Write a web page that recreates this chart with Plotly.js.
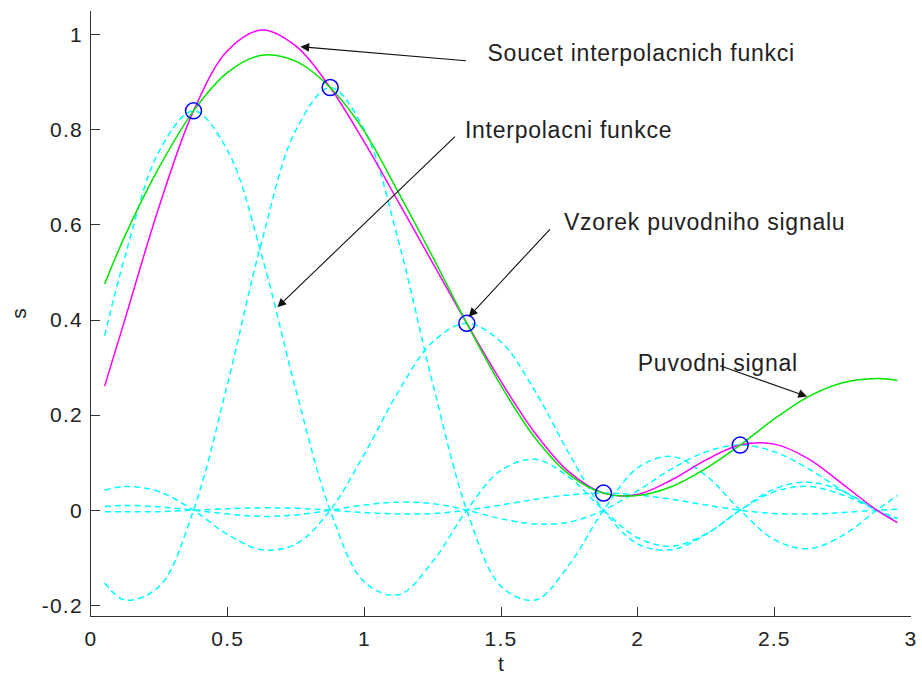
<!DOCTYPE html>
<html>
<head>
<meta charset="utf-8">
<script src="https://cdn.plot.ly/plotly-3.0.1.min.js"></script>
<style>
html,body{margin:0;padding:0;background:#fff;}
#chart{width:922px;height:675px;}
#chart text.annotation-text{letter-spacing:0.75px;}
#chart .xtick text,#chart .ytick text{letter-spacing:1.2px;}
</style>
</head>
<body>
<div id="chart"></div>
<script>
// time grid (s)
var tGrid = [0.05, 0.125, 0.25, 0.375, 0.5, 0.625, 0.75, 0.875, 1.0, 1.125, 1.25, 1.375, 1.5, 1.625, 1.75, 1.875, 2.0, 2.125, 2.25, 2.375, 2.5, 2.625, 2.75, 2.875, 2.95];
// original signal (green)
var puvodni = [0.476, 0.578, 0.722, 0.840, 0.921, 0.957, 0.944, 0.889, 0.797, 0.668, 0.533, 0.393, 0.262, 0.152, 0.075, 0.036, 0.031, 0.050, 0.088, 0.137, 0.192, 0.239, 0.268, 0.277, 0.273];
// sum of interpolation functions (magenta)
var soucet = [0.261, 0.403, 0.640, 0.840, 0.967, 1.010, 0.976, 0.889, 0.774, 0.648, 0.520, 0.393, 0.271, 0.162, 0.080, 0.036, 0.033, 0.064, 0.106, 0.137, 0.139, 0.108, 0.055, 0.000, -0.026];
// interpolation functions (cyan dashed)
var interp1 = [0.367, 0.535, 0.756, 0.840, 0.756, 0.535, 0.252, 0, -0.151, -0.178, -0.108, 0, 0.084, 0.107, 0.069, 0, -0.058, -0.076, -0.050, 0, 0.045, 0.059, 0.040, 0, -0.024];
var interp2 = [-0.153, -0.189, -0.160, 0, 0.267, 0.566, 0.800, 0.889, 0.800, 0.566, 0.267, 0, -0.160, -0.189, -0.114, 0, 0.089, 0.113, 0.073, 0, -0.062, -0.081, -0.053, 0, 0.031];
var interp3 = [0.042, 0.050, 0.039, 0, -0.051, -0.083, -0.071, 0, 0.118, 0.250, 0.354, 0.393, 0.354, 0.250, 0.118, 0, -0.071, -0.083, -0.051, 0, 0.039, 0.050, 0.032, 0, -0.018];
var interp4 = [-0.003, -0.003, -0.003, 0, 0.003, 0.005, 0.004, 0, -0.005, -0.008, -0.007, 0, 0.011, 0.023, 0.032, 0.036, 0.032, 0.023, 0.011, 0, -0.007, -0.008, -0.005, 0, 0.002];
var interp5 = [0.008, 0.010, 0.007, 0, -0.008, -0.013, -0.010, 0, 0.011, 0.017, 0.014, 0, -0.018, -0.029, -0.025, 0, 0.041, 0.087, 0.123, 0.137, 0.123, 0.087, 0.041, 0, -0.017];
// samples of the original signal
var sampleT = [0.375, 0.875, 1.375, 1.875, 2.375];
var sampleV = [0.840, 0.889, 0.393, 0.036, 0.137];
// tick labels
var xTickVals = [0, 0.5, 1, 1.5, 2, 2.5, 3];
var xTickText = ['0', '0.5', '1', '1.5', '2', '2.5', '3'];
var yTickVals = [-0.2, 0, 0.2, 0.4, 0.6, 0.8, 1];
var yTickText = ['-0.2', '0', '0.2', '0.4', '0.6', '0.8', '1'];

var FONT = 'Liberation Sans, Arial, sans-serif';
var interps = [interp1, interp2, interp3, interp4, interp5];
var traces = interps.map(function (v) {
  return {x: tGrid, y: v, type: 'scatter', mode: 'lines', hoverinfo: 'skip',
    line: {color: '#00ffff', width: 1.5, dash: '6px,4px', shape: 'spline', smoothing: 1}};
});
traces.push({x: tGrid, y: soucet, type: 'scatter', mode: 'lines',
  line: {color: '#ff00ff', width: 1.5, shape: 'spline', smoothing: 1}});
traces.push({x: tGrid, y: puvodni, type: 'scatter', mode: 'lines',
  line: {color: '#00e600', width: 1.5, shape: 'spline', smoothing: 1}});
traces.push({x: sampleT, y: sampleV, type: 'scatter', mode: 'markers',
  marker: {symbol: 'circle-open', size: 16, color: '#0000ff', line: {width: 1.5, color: '#0000ff'}}});

function label(x, y, text, dx) {
  return {x: x, y: y, xref: 'x', yref: 'y', text: text, showarrow: false, xshift: dx,
    xanchor: 'left', yanchor: 'middle', font: {family: FONT, size: 23, color: '#222'}};
}
function arrow(tx, ty, hx, hy) {
  return {x: hx, y: hy, ax: tx, ay: ty, xref: 'x', yref: 'y', axref: 'x', ayref: 'y',
    text: '', showarrow: true, arrowhead: 2, arrowsize: 1.6, arrowwidth: 1.1,
    arrowcolor: '#111', standoff: 0, startstandoff: 0};
}

var layout = {
  width: 922, height: 675,
  margin: {l: 91, r: 11, t: 11, b: 59},
  paper_bgcolor: '#fff', plot_bgcolor: '#fff',
  showlegend: false,
  font: {family: FONT, size: 21, color: '#222'},
  xaxis: {range: [0, 3], tickvals: xTickVals, ticktext: xTickText,
    showline: true, linecolor: '#333', linewidth: 1, mirror: false,
    ticks: 'inside', ticklen: 9, tickcolor: '#333', tickwidth: 1,
    showgrid: false, zeroline: false, ticklabelstandoff: 4,
    tickfont: {family: FONT, size: 21, color: '#222'},
    title: {text: 't', font: {family: FONT, size: 21, color: '#222'}, standoff: 8}},
  yaxis: {range: [-0.2225, 1.05], tickvals: yTickVals, ticktext: yTickText,
    showline: true, linecolor: '#333', linewidth: 1, mirror: false,
    ticks: 'inside', ticklen: 9, tickcolor: '#333', tickwidth: 1,
    showgrid: false, zeroline: false, ticklabelstandoff: 3,
    tickfont: {family: FONT, size: 21, color: '#222'},
    title: {text: 's', font: {family: FONT, size: 21, color: '#222'}, standoff: 14}},
  annotations: [
    label(1.455, 0.961, 'Soucet interpolacnich funkci', 7),
    label(1.372, 0.800, 'Interpolacni funkce', 4),
    label(1.729, 0.607, 'Vzorek puvodniho signalu', 7),
    label(2.001, 0.309, 'Puvodni signal', 3),
    arrow(1.377, 0.945, 0.766, 0.975),
    arrow(1.337, 0.789, 0.682, 0.427),
    arrow(1.684, 0.594, 1.382, 0.407),
    arrow(2.296, 0.305, 2.620, 0.239)
  ]
};
Plotly.newPlot('chart', traces, layout, {displayModeBar: false, staticPlot: true});
</script>
</body>
</html>
